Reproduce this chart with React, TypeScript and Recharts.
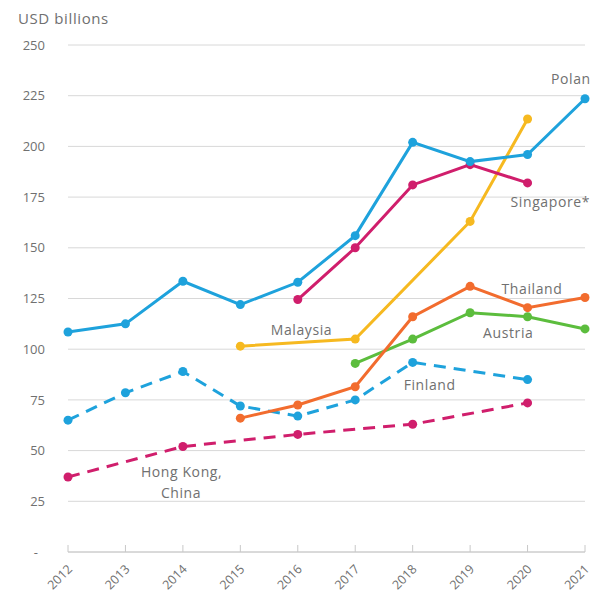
import { CartesianGrid, Line, LineChart, ReferenceDot, XAxis, YAxis } from 'recharts'

// values in USD billions
const years = ['2012', '2013', '2014', '2015', '2016', '2017', '2018', '2019', '2020', '2021']
const poland = [108.5, 112.5, 133.5, 122, 133, 156, 202, 192.5, 196, 223.5]
const singapore = [null, null, null, null, 124.5, 150, 181, 191, 182, null]
const malaysia = [null, null, null, 101.5, null, 105, null, 163, 213.5, null]
const thailand = [null, null, null, 66, 72.5, 81.5, 116, 131, 120.5, 125.5]
const austria = [null, null, null, null, null, 93, 105, 118, 116, 110]
const finland = [65, 78.5, 89, 72, 67, 75, 93.5, null, 85, null]
const hongKong = [37, null, 52, null, 58, null, 63, null, 73.5, null]

const yTicks = [0, 25, 50, 75, 100, 125, 150, 175, 200, 225, 250]

const BLUE = '#1ea2dc'
const MAGENTA = '#d01e6c'
const YELLOW = '#f6b920'
const ORANGE = '#f26c2e'
const GREEN = '#5cbd3d'
const TEXT = '#707070'
const FONT = '"Open Sans", sans-serif'

const data = years.map((year, i) => ({
  year,
  poland: poland[i],
  singapore: singapore[i],
  malaysia: malaysia[i],
  thailand: thailand[i],
  austria: austria[i],
  finland: finland[i],
  hongKong: hongKong[i],
}))

// series labels: anchored at a category / value, nudged in px
const labels = [
  { text: 'Poland', year: '2021', value: 231, dx: -34 },
  { text: 'Singapore*', year: '2020', value: 170, dx: -17 },
  { text: 'Thailand', year: '2020', value: 127, dx: -26 },
  { text: 'Austria', year: '2019', value: 105.5, dx: 13 },
  { text: 'Malaysia', year: '2016', value: 107, dx: -27 },
  { text: 'Finland', year: '2018', value: 80, dx: -9 },
  { text: 'Hong Kong,', year: '2014', value: 37, dx: -42 },
  { text: 'China', year: '2014', value: 26.5, dx: -22 },
]

const XTick = (props: any) => {
  const { x, y, payload } = props
  const tx = x + 5
  const ty = y + 18
  return (
    <g>
      <line x1={x} x2={x} y1={y - 7} y2={y} stroke="#c8c8c8" />
      <text
        x={tx}
        y={ty}
        transform={`rotate(-45 ${tx} ${ty})`}
        textAnchor="end"
        fill={TEXT}
        fontSize={12.5}
        fontFamily={FONT}
      >
        {payload.value}
      </text>
    </g>
  )
}

const YTick = (props: any) => {
  const { x, y, payload } = props
  const zero = payload.value === 0
  return (
    <text
      x={zero ? x - 7 : x}
      y={y}
      dy="0.355em"
      textAnchor="end"
      fill={TEXT}
      fontSize={13}
      fontFamily={FONT}
    >
      {zero ? '-' : payload.value}
    </text>
  )
}

const dot = (color: string) => ({ r: 4.5, fill: color, stroke: 'none' })

export default function App() {
  return (
    <div style={{ position: 'absolute', left: 0, top: 0, width: 590, height: 602, background: '#fff' }}>
      <div
        style={{
          position: 'absolute',
          left: 18,
          top: 8,
          fontFamily: FONT,
          fontSize: 15,
          letterSpacing: 0.6,
          color: TEXT,
        }}
      >
        USD billions
      </div>
      <LineChart
        width={590}
        height={602}
        data={data}
        margin={{ top: 45, right: 5, bottom: 0, left: 8 }}
      >
        <CartesianGrid vertical={false} stroke="#d8d8d8" />
        <XAxis
          dataKey="year"
          tick={<XTick />}
          tickLine={false}
          tickSize={0}
          tickMargin={0}
          axisLine={{ stroke: '#c8c8c8' }}
          interval={0}
          height={50}
        />
        <YAxis
          domain={[0, 250]}
          ticks={yTicks}
          width={60}
          tick={<YTick />}
          tickLine={false}
          tickSize={0}
          tickMargin={23}
          axisLine={false}
        />
        <Line dataKey="finland" stroke={BLUE} strokeWidth={3} strokeDasharray="12 8" dot={dot(BLUE)} connectNulls isAnimationActive={false} />
        <Line dataKey="hongKong" stroke={MAGENTA} strokeWidth={3} strokeDasharray="12 8" dot={dot(MAGENTA)} connectNulls isAnimationActive={false} />
        <Line dataKey="austria" stroke={GREEN} strokeWidth={3} dot={dot(GREEN)} isAnimationActive={false} />
        <Line dataKey="thailand" stroke={ORANGE} strokeWidth={3} dot={dot(ORANGE)} isAnimationActive={false} />
        <Line dataKey="malaysia" stroke={YELLOW} strokeWidth={3} dot={dot(YELLOW)} connectNulls isAnimationActive={false} />
        <Line dataKey="singapore" stroke={MAGENTA} strokeWidth={3} dot={dot(MAGENTA)} isAnimationActive={false} />
        <Line dataKey="poland" stroke={BLUE} strokeWidth={3} dot={dot(BLUE)} isAnimationActive={false} />
        {labels.map((l) => (
          <ReferenceDot
            key={l.text}
            x={l.year}
            y={l.value}
            r={0}
            ifOverflow="visible"
            label={(p: any) => (
              <text
                x={p.viewBox.x + l.dx}
                y={p.viewBox.y}
                fill={TEXT}
                fontSize={14}
                letterSpacing={0.6}
                fontFamily={FONT}
                textAnchor="start"
              >
                {l.text}
              </text>
            )}
          />
        ))}
      </LineChart>
    </div>
  )
}
